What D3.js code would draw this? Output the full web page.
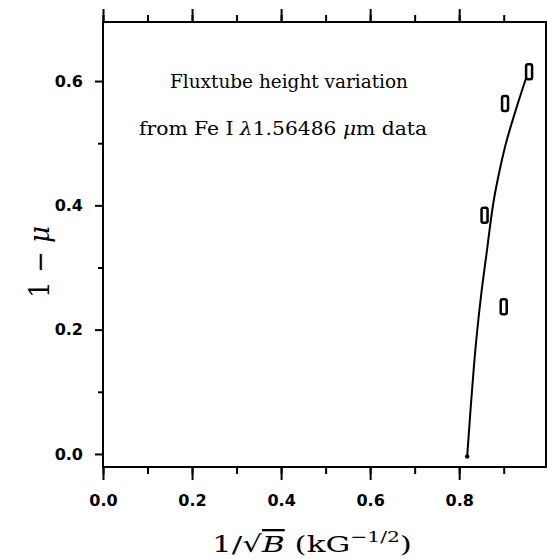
<!DOCTYPE html>
<html>
<head>
<meta charset="utf-8">
<script src="https://cdn.jsdelivr.net/npm/d3@7"></script>
<style>
  body { margin: 0; background: #fff; }
  svg { display: block; }
  .tick text { font-family: "DejaVu Sans", sans-serif; font-weight: bold; }
</style>
</head>
<body>
<div id="chart"></div>
<script>
// data
var obsX = [0.957, 0.903, 0.857, 0.900];
var obsY = [0.615, 0.564, 0.384, 0.237];

// fitted curve
var fitX = [0.818, 0.826, 0.833, 0.840, 0.850, 0.861, 0.877, 0.892, 0.907, 0.930, 0.955];
var fitY = [-0.004, 0.076, 0.140, 0.195, 0.260, 0.320, 0.405, 0.460, 0.505, 0.560, 0.615];

var xMajor = [0, 0.2, 0.4, 0.6, 0.8];
var xMinor = [0, 0.1, 0.2, 0.3, 0.4, 0.5, 0.6, 0.7, 0.8, 0.9];
var yMajor = [0, 0.2, 0.4, 0.6];
var yMinor = [0.1, 0.3, 0.5];

var svgWidth = 547;
var svgHeight = 559;

var margin = { top: 22, left: 103, right: 1, bottom: 92 };
var width = svgWidth - margin.left - margin.right;
var height = svgHeight - margin.top - margin.bottom;

var svg = d3.select('#chart')
  .append('svg')
  .attr('width', svgWidth)
  .attr('height', svgHeight);

var chartGroup = svg.append('g')
  .attr('transform', `translate(${margin.left}, ${margin.top})`);

var x = d3.scaleLinear().domain([0, 0.995]).range([0, width]);
var y = d3.scaleLinear().domain([-0.021, 0.695]).range([height, 0]);

// frame
chartGroup.append('rect')
  .attr('x', 0).attr('y', 0)
  .attr('width', width).attr('height', height)
  .attr('fill', 'none')
  .attr('stroke', '#000')
  .attr('stroke-width', 2);

function styleAxis(g) {
  g.select('.domain').remove();
  g.selectAll('.tick line').attr('stroke', '#000').attr('stroke-width', 2);
}

// bottom axis: major with labels, minor plain
chartGroup.append('g')
  .attr('transform', `translate(0, ${height})`)
  .call(d3.axisBottom(x).tickValues(xMinor).tickSize(7).tickFormat(''))
  .call(styleAxis);

chartGroup.append('g')
  .attr('transform', `translate(0, ${height})`)
  .call(d3.axisBottom(x).tickValues(xMajor).tickSize(13).tickPadding(15).tickFormat(d3.format('.1f')))
  .call(styleAxis)
  .selectAll('text').style('font-size', '16px');

// top axis
chartGroup.append('g')
  .call(d3.axisTop(x).tickValues(xMinor).tickSize(7).tickFormat(''))
  .call(styleAxis);

chartGroup.append('g')
  .call(d3.axisTop(x).tickValues(xMajor).tickSize(13).tickFormat(''))
  .call(styleAxis);

// left axis
chartGroup.append('g')
  .call(d3.axisLeft(y).tickValues(yMinor).tickSize(5).tickFormat(''))
  .call(styleAxis);

chartGroup.append('g')
  .call(d3.axisLeft(y).tickValues(yMajor).tickSize(8).tickPadding(12).tickFormat(d3.format('.1f')))
  .call(styleAxis)
  .selectAll('text').style('font-size', '16px');

// fitted curve
var fitData = fitX.map((v, i) => [v, fitY[i]]);
var line = d3.line()
  .x(d => x(d[0]))
  .y(d => y(d[1]))
  .curve(d3.curveCatmullRom);

chartGroup.append('path')
  .datum(fitData)
  .attr('d', line)
  .attr('fill', 'none')
  .attr('stroke', '#000')
  .attr('stroke-width', 2);

chartGroup.append('circle')
  .attr('cx', x(fitX[0]))
  .attr('cy', y(fitY[0]))
  .attr('r', 2.2)
  .attr('fill', '#000');

// observed points, small open boxes
var obsData = obsX.map((v, i) => ({ x: v, y: obsY[i] }));
chartGroup.selectAll('rect.obs')
  .data(obsData)
  .enter()
  .append('rect')
  .attr('class', 'obs')
  .attr('x', d => x(d.x) - 3)
  .attr('y', d => y(d.y) - 7.5)
  .attr('width', 6)
  .attr('height', 15)
  .attr('rx', 2)
  .attr('fill', '#fff')
  .attr('stroke', '#000')
  .attr('stroke-width', 2.5);

// annotation
var note = svg.append('g')
  .style('font-family', '"DejaVu Serif", serif')
  .style('font-size', '18px');

note.append('text')
  .attr('x', 170)
  .attr('y', 88)
  .attr('textLength', 238)
  .attr('lengthAdjust', 'spacingAndGlyphs')
  .text('Fluxtube height variation');

var note2 = note.append('text')
  .attr('x', 139)
  .attr('y', 135)
  .attr('textLength', 288)
  .attr('lengthAdjust', 'spacingAndGlyphs');
note2.append('tspan').text('from Fe I ');
note2.append('tspan').style('font-style', 'italic').text('λ');
note2.append('tspan').text('1.56486 ');
note2.append('tspan').style('font-style', 'italic').text('μ');
note2.append('tspan').text('m data');

// axis titles
var xTitle = svg.append('text')
  .attr('x', 212)
  .attr('y', 552)
  .attr('textLength', 200)
  .attr('lengthAdjust', 'spacingAndGlyphs')
  .style('font-family', '"DejaVu Serif", serif')
  .style('font-size', '23px');
xTitle.append('tspan').text('1/√');
xTitle.append('tspan').style('font-style', 'italic').style('text-decoration', 'overline').text('B');
xTitle.append('tspan').text('  (kG');
xTitle.append('tspan').attr('dy', -10).style('font-size', '15px').text('−1/2');
xTitle.append('tspan').attr('dy', 10).text(')');

var yTitle = svg.append('text')
  .attr('transform', 'translate(49, 262) rotate(-90)')
  .attr('text-anchor', 'middle')
  .attr('textLength', 72)
  .attr('lengthAdjust', 'spacingAndGlyphs')
  .style('font-family', '"DejaVu Serif", serif')
  .style('font-size', '27px');
yTitle.append('tspan').text('1 − ');
yTitle.append('tspan').style('font-style', 'italic').text('μ');
</script>
</body>
</html>
